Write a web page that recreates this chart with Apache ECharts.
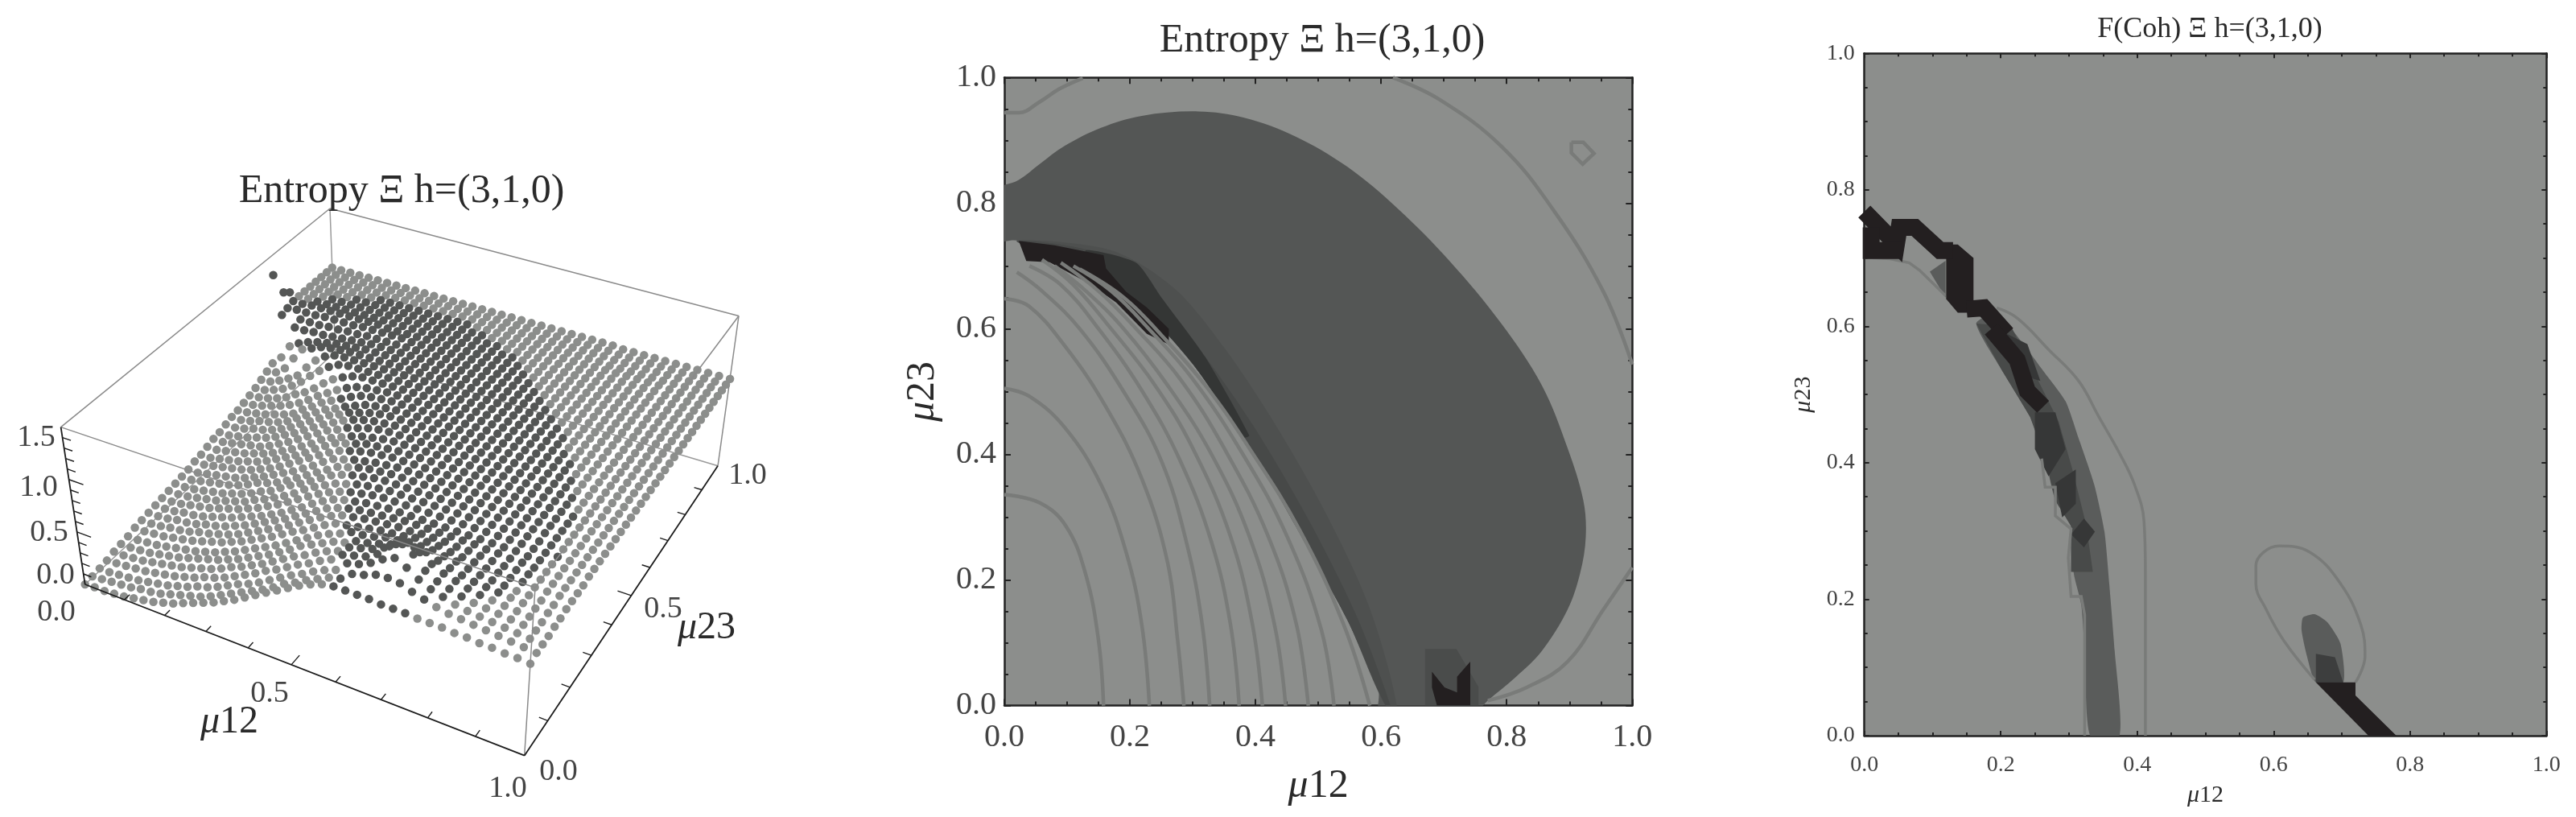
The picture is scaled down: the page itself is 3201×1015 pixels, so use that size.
<!DOCTYPE html>
<html><head><meta charset="utf-8">
<style>html,body{margin:0;padding:0;background:#fff}#c{width:3201px;height:1015px}</style>
<script src="https://cdn.jsdelivr.net/npm/echarts@6/dist/echarts.min.js"></script>
</head><body><div id="c"></div>
<script>
const gridSteps=40;
const entropyRows=[
[0,1,1,2,3,5,7,9,12,15,19,23,27,31,36,41,47,53,59,65,71,77,82,86,88,88,88,88,87,87,87,86,86,86,85,85,84,84,83,83,82],
[1,2,3,4,5,7,8,10,13,16,19,22,26,31,36,41,46,51,57,64,69,75,80,85,88,96,99,103,104,103,99,96,93,91,90,89,88,87,86,85,84],
[2,2,3,4,5,7,9,11,14,17,21,24,28,33,38,42,47,53,59,65,70,76,81,85,95,98,103,110,115,110,103,98,95,92,90,89,88,87,86,85,84],
[3,4,5,6,7,9,11,13,16,19,23,26,30,35,40,45,51,56,62,68,73,79,84,92,95,98,104,115,125,115,104,98,95,92,90,89,88,87,86,85,84],
[5,5,6,7,9,11,13,15,18,21,24,28,33,37,42,47,53,59,65,70,76,81,85,92,95,98,103,110,115,110,103,98,95,92,90,89,88,87,86,85,85],
[6,6,7,8,10,12,14,17,20,23,26,30,34,39,44,49,55,61,68,73,78,83,86,91,93,96,99,103,104,103,99,96,93,91,90,89,88,87,86,86,85],
[7,7,8,9,11,13,15,17,20,23,27,31,36,41,46,51,57,63,69,75,80,84,89,90,92,95,96,98,98,98,96,95,92,90,89,88,87,87,86,86,86],
[9,9,10,11,13,15,17,20,23,26,30,34,39,44,49,55,61,66,72,78,83,85,87,89,91,92,93,95,95,95,93,92,91,89,89,88,88,87,87,87,86],
[10,10,11,13,14,16,19,21,24,27,31,36,41,46,51,57,63,69,75,80,84,86,88,89,90,91,91,92,92,92,91,91,90,89,88,88,88,87,87,87,86],
[11,11,12,14,15,17,20,22,25,29,33,38,43,48,53,59,65,71,77,81,84,86,87,88,89,90,90,90,90,90,90,90,89,89,88,88,87,87,87,87,86],
[12,12,13,15,16,18,21,24,27,31,35,39,44,49,55,61,68,74,79,82,84,86,87,88,88,88,88,88,88,88,88,88,88,88,88,87,87,87,87,87,87],
[13,13,14,16,18,20,23,26,29,33,37,42,47,53,59,65,71,76,80,83,85,87,88,88,88,88,88,88,88,88,88,88,88,88,88,87,87,87,87,87,87],
[14,14,15,17,19,21,24,27,30,35,39,44,49,55,62,68,73,78,81,84,86,87,88,88,88,88,88,88,88,88,88,88,88,88,88,87,87,87,87,87,87],
[15,15,16,18,20,22,25,28,32,37,41,47,53,58,64,70,76,80,83,85,87,88,88,88,88,88,88,88,88,88,88,88,88,88,88,88,87,87,87,87,87],
[16,16,18,20,22,24,27,31,36,39,43,48,54,60,66,72,78,81,84,86,87,88,88,88,88,88,88,88,88,88,88,88,88,88,88,88,87,87,87,87,87],
[17,17,19,21,23,25,28,32,36,41,46,51,57,63,70,76,79,82,84,86,87,88,88,88,88,88,88,88,88,88,88,88,88,88,88,88,87,87,87,87,87],
[19,19,21,23,25,27,30,34,38,43,49,55,61,67,73,78,81,84,86,87,88,88,88,88,88,88,88,88,88,88,88,88,88,88,88,88,87,87,87,87,87],
[20,20,22,24,26,29,32,36,41,46,51,57,64,70,76,79,82,85,86,87,88,88,88,88,88,88,88,88,88,88,88,88,88,88,88,88,87,87,87,87,87],
[22,22,24,26,28,31,34,38,43,48,54,60,67,72,76,80,83,85,87,88,88,88,88,88,88,88,88,88,88,88,88,88,88,88,88,88,87,87,87,87,87],
[24,24,26,28,30,32,36,41,46,52,58,64,70,74,79,82,85,87,88,88,88,88,88,88,88,88,88,88,88,88,88,88,88,88,88,88,87,87,87,87,87],
[25,25,27,29,32,35,39,44,49,55,61,67,72,77,81,84,86,87,88,88,88,88,88,88,88,88,88,88,88,88,88,88,88,88,88,88,87,87,87,87,87],
[27,27,29,32,34,37,41,46,52,58,64,70,74,79,82,85,87,88,88,88,88,88,88,88,88,88,88,88,88,88,88,88,88,88,88,88,87,87,87,87,87],
[29,29,31,34,36,39,43,49,55,61,67,71,76,80,84,86,87,88,88,88,88,88,88,88,88,88,88,88,88,88,88,88,88,88,88,88,87,87,87,87,87],
[30,31,33,35,38,41,45,52,58,65,70,75,80,84,86,87,88,88,88,88,88,88,88,88,88,88,88,88,88,88,88,88,88,88,88,88,87,87,87,87,87],
[32,33,35,38,41,45,50,56,63,69,75,80,84,86,87,88,88,88,88,88,88,88,88,88,88,88,88,88,88,88,88,88,88,88,88,88,87,87,87,87,87],
[34,35,37,40,44,50,55,62,70,77,82,86,88,88,88,88,88,88,88,88,88,88,88,88,88,88,88,88,88,88,88,88,88,88,88,88,87,87,87,87,87],
[36,37,40,44,50,57,66,74,81,86,88,88,88,88,88,88,88,88,88,88,88,88,88,88,88,88,88,88,88,88,88,88,88,88,88,88,87,87,87,87,87],
[39,40,44,49,55,66,76,83,87,88,88,88,88,88,88,88,88,88,88,88,88,88,88,88,88,88,88,88,88,88,88,88,88,88,88,88,87,87,87,87,87],
[42,44,51,64,76,80,84,86,87,88,88,88,88,88,88,88,88,88,88,88,88,88,88,88,88,88,88,88,88,88,88,88,88,88,88,88,87,87,87,87,87],
[45,54,68,74,78,81,83,85,86,87,88,88,88,88,88,88,88,88,88,88,88,88,88,88,88,88,88,88,88,88,88,88,88,88,88,88,87,87,87,87,87],
[130,115,82,82,83,83,84,85,86,87,88,88,88,88,88,88,88,88,88,88,88,88,88,88,88,88,88,88,88,88,88,88,88,88,88,88,87,87,87,87,87],
[84,110,85,85,85,86,86,87,87,88,88,88,88,88,88,88,88,88,88,88,88,88,88,88,88,88,88,88,88,88,88,88,88,88,88,88,87,87,87,87,87],
[86,87,87,87,88,88,88,88,89,89,89,89,89,88,88,88,88,88,88,88,88,88,88,88,88,88,88,88,88,88,88,88,88,88,88,88,87,87,87,87,87],
[88,88,89,89,89,89,89,89,89,89,88,88,88,88,88,88,88,88,88,88,88,88,88,88,88,88,88,88,88,88,88,88,88,88,88,88,87,87,87,87,87],
[88,88,88,88,88,88,88,88,88,88,88,88,88,88,88,88,88,88,88,88,88,88,88,88,88,88,88,88,88,88,88,88,88,88,88,88,87,87,87,87,87],
[88,88,88,88,88,88,88,88,88,88,88,88,88,88,88,88,88,88,88,88,88,88,88,88,88,88,88,88,88,88,88,88,88,88,88,88,87,87,87,87,87],
[88,88,88,88,88,88,88,88,88,88,88,88,88,88,88,88,88,88,88,88,88,88,88,88,88,88,88,88,88,88,88,88,88,88,88,88,87,87,87,87,87],
[88,88,88,88,88,88,88,88,88,88,88,88,88,88,88,88,88,88,88,88,88,88,88,88,88,88,88,88,88,88,87,87,87,87,87,87,87,87,87,87,87],
[88,88,88,88,88,88,88,88,88,88,88,88,88,88,88,88,88,88,88,88,88,88,88,88,88,88,88,88,88,88,87,87,87,87,87,87,87,87,87,87,87],
[88,88,88,88,88,88,88,88,88,88,88,88,88,88,88,88,88,88,88,88,88,88,88,88,88,88,88,88,88,88,87,87,87,87,87,87,87,87,87,87,87],
[88,88,88,88,88,88,88,88,88,88,88,88,88,88,88,88,88,88,88,88,88,88,88,88,88,88,88,88,88,88,87,87,87,87,87,87,87,87,87,87,87]
];
const darkRegion=[[-.03,.822],[0,.829],[.023,.837],[.056,.862],[.096,.891],[.154,.92],[.219,.939],[.309,.946],[.382,.936],[.464,.906],[.546,.858],[.627,.791],[.709,.708],[.791,.609],[.856,.51],[.897,.41],[.922,.327],[.926,.269],[.917,.211],[.897,.153],[.856,.087],[.815,.046],[.77,.008],[.73,-.03],[.6,-.03],[.595,.029],[.546,.137],[.505,.211],[.464,.286],[.423,.36],[.382,.427],[.342,.485],[.301,.543],[.26,.592],[.219,.634],[.178,.667],[.137,.692],[.096,.708],[.023,.74],[-.03,.74]];
const fadeOuter=[[.02,.74],[.17,.725],[.27,.665],[.35,.57],[.43,.45],[.51,.31],[.58,.16],[.625,0],[.607,0],[.546,.137],[.464,.286],[.382,.427],[.301,.543],[.219,.634],[.137,.692],[.096,.708]];
const fadeInner=[[.02,.74],[.15,.72],[.24,.65],[.32,.555],[.40,.44],[.485,.295],[.56,.145],[.615,0],[.607,0],[.546,.137],[.464,.286],[.382,.427],[.301,.543],[.219,.634],[.137,.692],[.096,.708]];
const fadeCore=[[.13,.725],[.21,.705],[.25,.65],[.32,.555],[.39,.43],[.382,.427],[.301,.543],[.219,.634],[.137,.692]];
const blackBand=[[.023,.74],[.08,.733],[.158,.717],[.162,.696],[.194,.659],[.227,.634],[.262,.6],[.262,.575],[.227,.592],[.178,.642],[.137,.671],[.072,.706],[.035,.708]];
const spotHalo=[[.67,.09],[.72,.09],[.755,.03],[.755,0],[.67,0]];
const spotBlack=[[.681,.054],[.701,.029],[.721,.021],[.721,.046],[.742,.07],[.742,0],[.689,0],[.681,.029]];
const entropyContours=[
[[0,.336],[.056,.323],[.098,.286],[.129,.211],[.15,.104],[.158,0]],
[[0,.505],[.039,.493],[.096,.443],[.154,.352],[.194,.244],[.219,.128],[.231,0]],
[[0,.648],[.039,.636],[.096,.573],[.161,.477],[.219,.361],[.26,.228],[.276,.104],[.286,0]],
[[.02,.69],[.06,.66],[.12,.60],[.19,.5],[.25,.39],[.29,.26],[.315,.13],[.327,0]],
[[.04,.70],[.09,.67],[.15,.60],[.22,.50],[.28,.39],[.33,.26],[.36,.13],[.374,0]],
[[.06,.71],[.11,.67],[.17,.60],[.24,.51],[.30,.41],[.36,.27],[.395,.13],[.411,0]],
[[.08,.70],[.13,.66],[.19,.60],[.26,.51],[.33,.40],[.39,.27],[.43,.13],[.448,0]],
[[.09,.705],[.15,.66],[.21,.60],[.28,.52],[.35,.41],[.42,.27],[.465,.13],[.484,0]],
[[.11,.70],[.17,.66],[.23,.60],[.30,.52],[.38,.40],[.45,.27],[.505,.12],[.525,0]],
[[.12,.695],[.19,.65],[.25,.59],[.32,.51],[.39,.41],[.47,.28],[.54,.13],[.582,0]],
[[0,.944],[.023,.944],[.056,.961],[.088,.982],[.125,.999]],
[[.619,1],[.693,.965],[.791,.891],[.873,.791],[.954,.659],[1,.543]],
[[.77,.008],[.832,.029],[.897,.07],[.954,.153],[1,.22]]
];
const entropyPentagon=[[.903,.897],[.922,.897],[.939,.879],[.921,.862],[.903,.88],[.903,.897]];
const cohBand=[[.194,.619],[.239,.566],[.262,.535],[.295,.49],[.314,.436],[.337,.368],[.352,.299],[.359,.223],[.367,.124],[.374,0],[.331,0],[.323,.124],[.318,.192],[.307,.238],[.303,.307],[.28,.345],[.265,.406],[.243,.467],[.202,.535],[.164,.604]];
const cohInnerBand=[[.164,.604],[.215,.60],[.25,.53],[.285,.46],[.305,.39],[.325,.31],[.335,.24],[.303,.24],[.303,.307],[.28,.345],[.265,.406],[.243,.467],[.202,.535]];
const cohWedge=[[.096,.68],[.119,.696],[.119,.642]];
const cohShades=[
[[.25,.474],[.28,.474],[.295,.42],[.27,.38],[.25,.42]],
[[.28,.37],[.31,.39],[.31,.34],[.29,.32]],
[[.303,.295],[.322,.318],[.338,.299],[.322,.276]],
[[.209,.589],[.239,.574],[.258,.52],[.232,.528]]
];
const cohBlackPaths=[
[[0,.768],[.047,.72],[.051,.745],[.074,.745],[.111,.711],[.13,.711]],
[[.01,.745],[.01,.711],[.055,.711]],
[[.15,.625],[.175,.627],[.209,.589]],
[[.186,.596],[.224,.551],[.239,.505],[.262,.482]]
];
const cohBlackBlock=[[.12,.72],[.137,.72],[.16,.70],[.16,.62],[.137,.62],[.12,.64]];
const cohBlob=[[.643,.173],[.66,.178],[.679,.166],[.698,.135],[.702,.078],[.662,.078],[.649,.116],[.641,.154]];
const cohBlobCore=[[.662,.12],[.69,.115],[.702,.078],[.662,.078]];
const cohBlackTail=[[.662,.078],[.72,.078],[.72,.059],[.78,0],[.739,0]];
const cohContours=[
[[.194,.627],[.224,.612],[.27,.566],[.314,.52],[.344,.467],[.374,.414],[.396,.368],[.41,.314],[.412,.238],[.412,0]],
[[.66,.082],[.615,.139],[.589,.185],[.574,.223],[.574,.249],[.608,.278],[.653,.269],[.698,.223],[.728,.162],[.734,.116],[.72,.078]]
];
const cohJagged=[
[[0,.701],[.038,.699],[.066,.693],[.081,.682],[.119,.645]],
[[.26,.406],[.265,.364],[.28,.364],[.28,.322],[.303,.303],[.299,.261],[.303,.204],[.318,.204],[.323,.177],[.323,0]]
];
const boxFloor=[[105.7,726],[651.7,938.7],[892,578.8],[416.7,437]];
const boxTop=[[75.6,530.6],[665,730],[918,392.5],[410,259]];
const zMax=1.5;
const LIGHT='#8c8e8c',DARK='#545655',CONTOUR='#797b79',BLACK='#231f20',INK='#2a2a2a',TICK='#444';
const SERIF='"Liberation Serif"';

function squareToQuad(q){
  const [[x0,y0],[x1,y1],[x2,y2],[x3,y3]]=q;
  const dx1=x1-x2,dx2=x3-x2,sx=x0-x1+x2-x3,dy1=y1-y2,dy2=y3-y2,sy=y0-y1+y2-y3;
  const d=dx1*dy2-dx2*dy1,g=(sx*dy2-dx2*sy)/d,h=(dx1*sy-sx*dy1)/d;
  const a=x1-x0+g*x1,b=x3-x0+h*x3,e=y1-y0+g*y1,f=y3-y0+h*y3;
  return (u,v)=>{const w=g*u+h*v+1;return [(a*u+b*v+x0)/w,(e*u+f*v+y0)/w];};
}
const floorMap=squareToQuad(boxFloor),topMap=squareToQuad(boxTop);
function project(u,v,z){
  const p=floorMap(u,v),q=topMap(u,v),t=z/zMax;
  return [p[0]+(q[0]-p[0])*t,p[1]+(q[1]-p[1])*t];
}
function inside(pt,poly){
  let c=false;
  for(let i=0,j=poly.length-1;i<poly.length;j=i++){
    const [xi,yi]=poly[i],[xj,yj]=poly[j];
    if((yi>pt[1])!==(yj>pt[1])&&pt[0]<(xj-xi)*(pt[1]-yi)/(yj-yi)+xi)c=!c;
  }
  return c;
}
const surface=[];
for(let j=gridSteps;j>=0;j--){
  for(let i=0;i<=gridSteps;i++){
    const u=i/gridSteps,v=j/gridSteps,z=entropyRows[j][i]/100;
    const p=project(u,v,z);
    surface.push([p[0],p[1],inside([u,v],darkRegion)?1:0]);
  }
}
function segs(list){
  const out=[];
  list.forEach(s=>{out.push(project(...s[0]),project(...s[1]),['-','-']);});
  return out;
}
function edge(a,b,color,width,z){
  return {type:'line',xAxisIndex:0,yAxisIndex:0,data:segs(a.map((p,k)=>[p,b[k]])),symbol:'none',silent:true,animation:false,
    z,lineStyle:{color,width}};
}
const c000=[0,0,0],c100=[1,0,0],c110=[1,1,0],c010=[0,1,0],c001=[0,0,1.5],c101=[1,0,1.5],c111=[1,1,1.5],c011=[0,1,1.5];
const tickStart=[],tickEnd=[];
for(let k=1;k<10;k++){tickStart.push([k/10,0,0]);tickEnd.push([k/10,k==5?.03:.018,0]);}
for(let k=1;k<10;k++){tickStart.push([1,k/10,0]);tickEnd.push([k==5?.97:.982,k/10,0]);}
for(let k=1;k<15;k++){tickStart.push([0,0,k/10]);tickEnd.push([k%5==0?.035:.02,0,k/10]);}

const series=[
  edge([c010,c010,c010],[c011,c000,c110],'#9a9a9a',1.5,1),
  edge([c110],[c111],'#8a8a8a',1.5,1),
  {type:'scatter',xAxisIndex:0,yAxisIndex:0,data:surface,symbolSize:10.5,silent:true,animation:false,progressive:0,large:false,z:2,
    itemStyle:{color:p=>p.value[2]?DARK:LIGHT,opacity:1}},
  edge([c001,c011,c111,c001,c101,c101],[c011,c111,c101,c101,c100,c111],'#8a8a8a',1.5,3),
  edge([c000,c000,c100],[c001,c100,c110],'#1c1c1c',1.8,4),
  edge(tickStart,tickEnd,'#1c1c1c',1.4,4)
];
function addPoly(pts,color,g,z,smooth){
  series.push({type:'custom',xAxisIndex:g,yAxisIndex:g,silent:true,animation:false,clip:true,z,data:[[0,0]],
    renderItem:(params,api)=>({type:'polygon',shape:{points:pts.map(p=>api.coord(p)),smooth:smooth||0},style:{fill:color}})});
}
function addLine(pts,color,width,g,z,smooth){
  series.push({type:'line',xAxisIndex:g,yAxisIndex:g,data:pts,symbol:'none',silent:true,animation:false,clip:true,z,
    smooth:smooth||false,lineStyle:{color,width,cap:'butt',join:'miter'}});
}
addPoly(darkRegion,DARK,1,2,.35);
addPoly(fadeOuter,'#4e504f',1,3,.3);
addPoly(fadeInner,'#474948',1,4,.3);
addPoly(fadeCore,'#343635',1,4.5,.2);
addPoly(blackBand,BLACK,1,5);
addPoly(spotHalo,'#4a4c4b',1,4);
addPoly(spotBlack,BLACK,1,5);
entropyContours.forEach(c=>addLine(c,CONTOUR,4.5,1,6,.4));
addLine(entropyPentagon,CONTOUR,4.5,1,6);
addPoly(cohBand,'#5a5c5b',2,2,.2);
addPoly(cohInnerBand,'#484a49',2,2.5);
addPoly(cohWedge,'#5a5c5b',2,2);
cohShades.forEach(s=>addPoly(s,'#363737',2,3));
addPoly(cohBlob,'#5a5c5b',2,2,.2);
addPoly(cohBlobCore,'#3d3e3e',2,2.5);
cohContours.forEach(c=>addLine(c,CONTOUR,3.5,2,3,.4));
cohJagged.forEach(c=>addLine(c,CONTOUR,3.5,2,3));
cohBlackPaths.forEach(p=>addLine(p,BLACK,21,2,5));
addPoly(cohBlackBlock,BLACK,2,5);
addPoly(cohBlackTail,BLACK,2,5);

const frames=[
  {l:1248,t:96.3,s:780.3,font:40,name:50,major:8,minor:5,nameX:75,nameY:76,marginX:20,marginY:10},
  {l:2316.7,t:66.3,s:847.6,font:28,name:30,major:6,minor:4,nameX:59,nameY:61,marginX:23,marginY:12}
];
const MU=s=>'{m|\u03bc}'+s;
function axisPair(f,idx,kind){
  const base={type:'value',min:0,max:1,interval:.2,gridIndex:idx,
    splitLine:{show:false},
    axisLine:{show:true,onZero:false,lineStyle:{color:'#222',width:2.5}},
    axisTick:{show:true,inside:true,length:f.major,lineStyle:{color:'#222',width:2}},
    minorTick:{show:true,splitNumber:4,length:f.minor,lineStyle:{color:'#222',width:2}},
    minorSplitLine:{show:false}};
  const name=kind==='x'?MU('12'):MU('23');
  const nameStyle={fontFamily:SERIF,fontSize:f.name,color:INK,
    rich:{m:{fontFamily:SERIF,fontStyle:'italic',fontSize:f.name,color:INK}}};
  return [
    Object.assign({},base,{position:kind==='x'?'bottom':'left',name,nameLocation:'middle',
      nameGap:kind==='x'?f.nameX:f.nameY,nameTextStyle:nameStyle,
      axisLabel:{show:true,fontFamily:SERIF,fontSize:f.font,color:TICK,margin:kind==='x'?f.marginX:f.marginY,formatter:v=>v.toFixed(1)}}),
    Object.assign({},base,{position:kind==='x'?'top':'right',axisLabel:{show:false}})
  ];
}
const xAxes=[{type:'value',gridIndex:0,min:0,max:1050,show:false}];
const yAxes=[{type:'value',gridIndex:0,min:0,max:1015,inverse:true,show:false}];
frames.forEach((f,k)=>{
  xAxes[k+1]=axisPair(f,k+1,'x')[0];yAxes[k+1]=axisPair(f,k+1,'y')[0];
});
frames.forEach((f,k)=>{
  xAxes.push(axisPair(f,k+1,'x')[1]);yAxes.push(axisPair(f,k+1,'y')[1]);
});
function txt(text,x,y,size,color){
  return {type:'text',x,y,silent:true,z:20,style:{text,fontFamily:SERIF,fontSize:size,fill:color,textAlign:'center',textVerticalAlign:'middle',
    rich:{m:{fontFamily:SERIF,fontStyle:'italic',fontSize:size,fill:color}}}};
}
const left3dLabels=[
  ['1.5',45,544],['1.0',48,606],['0.5',61,662],['0.0',69,715],['0.0',70,761],
  ['0.5',335,862],['1.0',631,980],['0.0',694,959],['0.5',824,757],['1.0',929,591]
];
const option={
  animation:false,backgroundColor:'#fff',
  title:[
    {text:'Entropy \u039e h=(3,1,0)',left:494,top:208,textAlign:'center',textStyle:{fontFamily:SERIF,fontWeight:'normal',fontSize:50,color:INK}},
    {text:'Entropy \u039e h=(3,1,0)',left:1638,top:21,textAlign:'center',textStyle:{fontFamily:SERIF,fontWeight:'normal',fontSize:50,color:INK}},
    {text:'F(Coh) \u039e h=(3,1,0)',left:2741,top:14,textAlign:'center',textStyle:{fontFamily:SERIF,fontWeight:'normal',fontSize:36,color:INK}}
  ],
  grid:[
    {left:0,top:0,width:1050,height:1015,show:false,outerBoundsMode:'none'},
    {left:frames[0].l,top:frames[0].t,width:frames[0].s,height:frames[0].s,show:true,backgroundColor:LIGHT,borderWidth:0,outerBoundsMode:'none'},
    {left:frames[1].l,top:frames[1].t,width:frames[1].s,height:frames[1].s,show:true,backgroundColor:LIGHT,borderWidth:0,outerBoundsMode:'none'}
  ],
  xAxis:xAxes,yAxis:yAxes,
  series,
  graphic:{elements:left3dLabels.map(a=>txt(a[0],a[1],a[2],38,TICK)).concat([
    txt(MU('12'),285,897,48,INK),txt(MU('23'),878,780,48,INK)
  ])}
};
const chart=echarts.init(document.getElementById('c'),null,{renderer:'canvas',width:3201,height:1015});
chart.setOption(option);
</script></body></html>
